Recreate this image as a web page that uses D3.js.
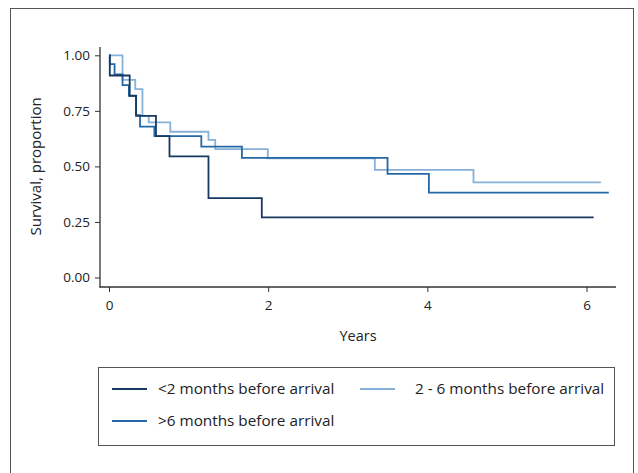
<!DOCTYPE html>
<html>
<head>
<meta charset="utf-8">
<script src="https://cdn.jsdelivr.net/npm/d3@7"></script>
<style>
  body { margin: 0; background: #fff; }
  text { font-family: "Open Sans", "Noto Sans", sans-serif; fill: #222; }
</style>
</head>
<body>
<div id="chart"></div>
<script>
// group names
var groups = ["<2 months before arrival", "2 - 6 months before arrival", ">6 months before arrival"];

// Kaplan-Meier steps (years, survival)
var lt2Time = [0, 0.01, 0.26, 0.34, 0.59, 0.76, 1.25, 1.92, 6.09];
var lt2Surv = [1, 0.909, 0.818, 0.727, 0.636, 0.545, 0.357, 0.271, 0.271];

var mid26Time = [0, 0.17, 0.33, 0.42, 0.50, 0.77, 1.25, 1.335, 1.995, 3.34, 4.58, 6.18];
var mid26Surv = [1, 0.889, 0.848, 0.727, 0.698, 0.656, 0.619, 0.578, 0.536, 0.484, 0.428, 0.428];

var gt6Time = [0, 0.01, 0.07, 0.17, 0.25, 0.34, 0.39, 0.57, 1.16, 1.67, 3.50, 4.02, 6.28];
var gt6Surv = [1, 0.96, 0.914, 0.866, 0.817, 0.731, 0.679, 0.636, 0.589, 0.538, 0.466, 0.382, 0.382];

var xTicks = [0, 2, 4, 6];
var yTicks = [0, 0.25, 0.5, 0.75, 1];

var colors = ["#163a5f", "#86b0d8", "#2468a8"];

var chart = {
    w: 638,
    h: 473,
    svg: 0
};

chart.svg = d3.select("#chart")
    .append("svg")
    .attr("width", chart.w)
    .attr("height", chart.h);

var svg = chart.svg;

// outer frame
svg.append("rect")
    .attr("x", 10.5)
    .attr("y", 8.5)
    .attr("width", 623)
    .attr("height", 480)
    .attr("fill", "none")
    .attr("stroke", "#555")
    .attr("stroke-width", 1);

var x = d3.scaleLinear().domain([0, 6]).range([109, 586.5]);
var y = d3.scaleLinear().domain([0, 1]).range([277.5, 55.3]);

// y axis
var yAxis = svg.append("g")
    .attr("transform", "translate(100,0)")
    .call(d3.axisLeft(y).tickValues(yTicks).tickSize(5).tickPadding(5).tickFormat(d3.format(".2f")));
yAxis.select(".domain").remove();
yAxis.selectAll("line").attr("stroke", "#333");
yAxis.selectAll("text").attr("font-size", 13.5).attr("fill", "#222")
    .style("font-family", "'Open Sans', sans-serif");
svg.append("line")
    .attr("x1", 100).attr("x2", 100)
    .attr("y1", y(1.037)).attr("y2", 287.5)
    .attr("stroke", "#333").attr("stroke-width", 1.3);

// x axis
var xAxis = svg.append("g")
    .attr("transform", "translate(0,287)")
    .call(d3.axisBottom(x).tickValues(xTicks).tickSize(5).tickPadding(8).tickFormat(d3.format("d")));
xAxis.select(".domain").remove();
xAxis.selectAll("line").attr("stroke", "#333");
xAxis.selectAll("text").attr("font-size", 13.5).attr("fill", "#222")
    .style("font-family", "'Open Sans', sans-serif");
svg.append("line")
    .attr("x1", 99.5).attr("x2", x(6.37))
    .attr("y1", 287).attr("y2", 287)
    .attr("stroke", "#333").attr("stroke-width", 1.3);

// axis titles
svg.append("text")
    .attr("transform", "translate(41," + y(0.5) + ") rotate(-90)")
    .attr("text-anchor", "middle")
    .attr("font-size", 15)
    .text("Survival, proportion");

svg.append("text")
    .attr("x", 358)
    .attr("y", 341)
    .attr("text-anchor", "middle")
    .attr("font-size", 14.5)
    .text("Years");

// curves
var line = d3.line()
    .x(function (d) { return x(d[0]); })
    .y(function (d) { return y(d[1]); })
    .curve(d3.curveStepAfter);

function pairs(t, s) {
    return t.map(function (v, i) { return [v, s[i]]; });
}

var series = [
    { name: groups[1], pts: pairs(mid26Time, mid26Surv), color: colors[1] },
    { name: groups[2], pts: pairs(gt6Time, gt6Surv), color: colors[2] },
    { name: groups[0], pts: pairs(lt2Time, lt2Surv), color: colors[0] }
];

svg.append("g")
    .selectAll("path")
    .data(series)
    .enter().append("path")
    .attr("d", function (d) { return line(d.pts); })
    .attr("fill", "none")
    .attr("stroke", function (d) { return d.color; })
    .attr("stroke-width", 1.8);

// legend
svg.append("rect")
    .attr("x", 98.5)
    .attr("y", 367.5)
    .attr("width", 516)
    .attr("height", 78)
    .attr("fill", "none")
    .attr("stroke", "#555");

var legendItems = [
    { name: groups[0], color: colors[0], lx: 112, tx: 158, ty: 389 },
    { name: groups[1], color: colors[1], lx: 360, tx: 415, ty: 389 },
    { name: groups[2], color: colors[2], lx: 112, tx: 158, ty: 421 }
];

var lg = svg.append("g").selectAll("g")
    .data(legendItems)
    .enter().append("g");

lg.append("line")
    .attr("x1", function (d) { return d.lx; })
    .attr("x2", function (d) { return d.lx + 35; })
    .attr("y1", function (d) { return d.ty; })
    .attr("y2", function (d) { return d.ty; })
    .attr("stroke", function (d) { return d.color; })
    .attr("stroke-width", 1.8);

lg.append("text")
    .attr("x", function (d) { return d.tx; })
    .attr("y", function (d) { return d.ty; })
    .attr("dy", "0.35em")
    .attr("font-size", 15.3)
    .text(function (d) { return d.name; });
</script>
</body>
</html>
